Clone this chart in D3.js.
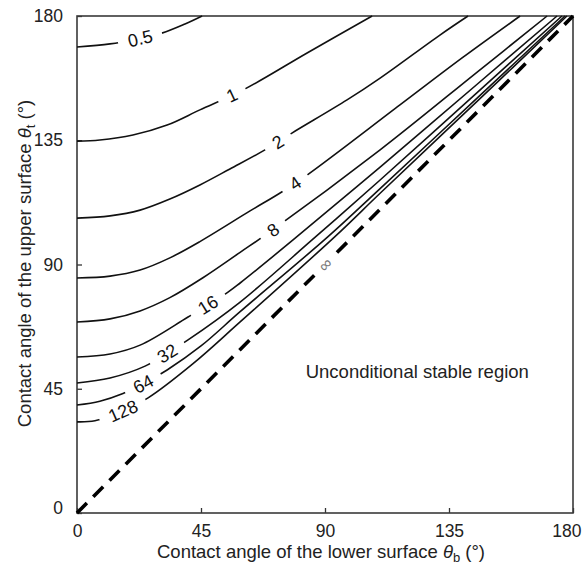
<!DOCTYPE html>
<html>
<head>
<meta charset="utf-8">
<script src="https://cdn.jsdelivr.net/npm/d3@7"></script>
<style>
body { margin: 0; background: #fff; }
text { font-family: "Liberation Sans", Arial, sans-serif; }
</style>
</head>
<body>
<div id="viz"></div>
<script>
// dimensions and margin of the svg
const width = 587
const height = 564
const margin = {left: 77, top: 16, right: 14, bottom: 51}
const g_width = width - margin.left - margin.right;
const g_height = height - margin.top - margin.bottom;

// tick values
const xTicks = [0, 45, 90, 135, 180];
const yTicks = [0, 45, 90, 135, 180];

// contour levels and their lines, [theta_b, theta_t] in degrees
const contourLevels = ["0.5", "1", "2", "4", "8", "16", "32", "64", "128"];
const c0_5 = [[0, 168.8], [12.0, 169.9], [21.0, 171.5], [30.8, 173.8], [39.2, 177.1], [45.4, 180]];
const c1 = [[0, 134.7], [8.3, 135.1], [20.3, 136.9], [32.7, 140.5], [44.6, 146.0], [61.0, 153.6], [83.5, 166.6], [107.1, 180]];
const c2 = [[0, 106.8], [12.0, 107.6], [22.9, 109.7], [33.7, 113.7], [44.6, 118.8], [55.5, 124.6], [68.2, 131.5], [78.0, 137.6], [98.0, 149.6], [110.0, 157.5], [131.7, 173.1], [141.9, 180]];
const c4 = [[0, 85.1], [12.0, 85.8], [22.9, 88.0], [33.7, 92.4], [44.6, 98.3], [62.8, 109.4], [73.7, 115.9], [83.5, 122.4], [117.2, 147.8], [140.0, 165.0], [160.8, 180]];
const c8 = [[0, 69.2], [12.0, 70.3], [22.9, 73.2], [33.7, 78.0], [45.7, 85.2], [59.2, 94.4], [71.1, 102.6], [110.0, 131.5], [145.0, 159.5], [170.6, 180]];
const c16 = [[0, 56.5], [12.0, 57.6], [22.9, 60.8], [40.3, 71.0], [54.8, 80.0], [59.2, 83.3], [78.4, 98.9], [110.0, 125.3], [145.0, 155.1], [174.2, 180]];
const c32 = [[0, 47.1], [12.0, 48.9], [24.7, 53.2], [32.7, 57.9], [40.3, 62.7], [59.2, 76.4], [85.3, 98.9], [110.0, 120.6], [145.0, 152.1], [176.0, 180]];
const c64 = [[0, 39.1], [8.3, 40.5], [16.7, 43.3], [24.0, 46.8], [32.7, 51.8], [45.0, 60.5], [59.2, 72.9], [91.0, 100.0], [110.0, 117.5], [145.0, 150.1], [177.1, 180]];
const c128 = [[0, 33.0], [6.5, 33.4], [16.7, 37.0], [25.8, 41.7], [42.0, 54.0], [59.2, 69.2], [93.6, 100.1], [110.0, 115.8], [145.0, 148.9], [177.8, 180]];
const contourData = [c0_5, c1, c2, c4, c8, c16, c32, c64, c128];

// theta_b where each level label sits on its line
const labelThetaB = [22.9, 56.2, 72.9, 79.1, 71.1, 47.5, 32.7, 24.0, 16.7];

// the infinity (neutral) line
const infinityLine = [[0, 0], [180, 180]];
const infinityLabelAt = 90;

const regionText = "Unconditional stable region";
const regionAt = [123.5, 49];

var svg = d3.select("#viz")
        .append("svg")
        .attr("width", width)
        .attr("height", height)
        .append("g")
        .attr("transform", "translate(" + margin.left + "," + margin.top + ")");

const defs = svg.append("defs");

const x = d3.scaleLinear().domain([0, 180]).range([0, g_width]);
const y = d3.scaleLinear().domain([0, 180]).range([g_height, 0]);

// axes with small inward ticks
const x_axis = d3.axisBottom(x).tickValues(xTicks).tickSizeInner(-5).tickSizeOuter(0).tickPadding(11.5);
const y_axis = d3.axisLeft(y).tickValues(yTicks).tickSizeInner(-5).tickSizeOuter(0).tickPadding(14);

svg.append("g")
    .attr("transform", "translate(0," + g_height + ")")
    .call(x_axis)
    .call(g => g.select(".domain").remove())
    .call(g => g.selectAll("line").attr("stroke", "#333").attr("stroke-width", 1.3))
    .call(g => g.selectAll("text").style("font-size", "17.5px").attr("fill", "#222")
        .style("font-family", "'Liberation Sans', Arial, sans-serif"))
    // last label is pulled inside the page edge
    .call(g => g.selectAll("text").filter(d => d === 180).attr("text-anchor", "end").attr("x", 8));

svg.append("g")
    .call(y_axis)
    .call(g => g.select(".domain").remove())
    .call(g => g.selectAll("line").attr("stroke", "#333").attr("stroke-width", 1.3))
    .call(g => g.selectAll("text").style("font-size", "17.5px").attr("fill", "#222")
        .style("font-family", "'Liberation Sans', Arial, sans-serif"))
    .call(g => g.selectAll("text").filter(d => d === 0).attr("y", -5));

// frame
svg.append("rect")
    .attr("width", g_width)
    .attr("height", g_height)
    .attr("fill", "none")
    .attr("stroke", "#3a3a3a")
    .attr("stroke-width", 1.6);

const line = d3.line()
    .x(d => x(d[0]))
    .y(d => y(d[1]))
    .curve(d3.curveCatmullRom.alpha(0.5));

// draws a label on a line and cuts a gap for it with a mask
function labelGap(id, px, py, ang, txt, size, pad, color) {
    const t = svg.append("text")
        .attr("transform", "translate(" + px + "," + py + ") rotate(" + ang + ")")
        .attr("text-anchor", "middle")
        .attr("dy", "0.36em")
        .style("font-size", size + "px")
        .attr("fill", color)
        .text(txt);
    const w = t.node().getComputedTextLength();
    const m = defs.append("mask")
        .attr("id", id)
        .attr("maskUnits", "userSpaceOnUse")
        .attr("x", -20).attr("y", -20)
        .attr("width", g_width + 40).attr("height", g_height + 40);
    m.append("rect")
        .attr("x", -20).attr("y", -20)
        .attr("width", g_width + 40).attr("height", g_height + 40)
        .attr("fill", "white");
    m.append("rect")
        .attr("transform", "translate(" + px + "," + py + ") rotate(" + ang + ")")
        .attr("x", -w / 2 - pad).attr("y", -10)
        .attr("width", w + 2 * pad).attr("height", 20)
        .attr("fill", "black");
    return "url(#" + id + ")";
}

contourData.forEach(function(pts, i) {
    const interp = d3.scaleLinear().domain(pts.map(d => d[0])).range(pts.map(d => d[1]));
    const lx = labelThetaB[i];
    const px = x(lx), py = y(interp(lx));
    const ang = Math.atan2(y(interp(lx + 2)) - y(interp(lx - 2)), x(lx + 2) - x(lx - 2)) * 180 / Math.PI;
    const mask = labelGap("m" + i, px, py, ang, contourLevels[i], 18, 10, "#111");
    svg.append("path")
        .datum(pts)
        .attr("d", line)
        .attr("fill", "none")
        .attr("stroke", "#111")
        .attr("stroke-width", 1.6)
        .attr("mask", mask);
});

// dashed infinity line
const infMask = labelGap("minf", x(infinityLabelAt), y(infinityLabelAt), -45, "\u221e", 17, 9, "#777");
svg.append("path")
    .datum(infinityLine)
    .attr("d", d3.line().x(d => x(d[0])).y(d => y(d[1])))
    .attr("fill", "none")
    .attr("stroke", "#000")
    .attr("stroke-width", 3.6)
    .style("stroke-dasharray", "14, 9")
    .attr("mask", infMask);

// region label
svg.append("text")
    .attr("x", x(regionAt[0]))
    .attr("y", y(regionAt[1]))
    .attr("text-anchor", "middle")
    .style("font-size", "18.5px")
    .attr("fill", "#222")
    .text(regionText);

// x label
const xl = svg.append("text")
    .attr("x", g_width / 2 - 4)
    .attr("y", g_height + 45)
    .attr("text-anchor", "middle")
    .style("font-size", "18.5px")
    .attr("fill", "#222");
xl.append("tspan").text("Contact angle of the lower surface ");
xl.append("tspan").style("font-style", "italic").text("\u03b8");
xl.append("tspan").attr("dy", 4).style("font-size", "13px").text("b");
xl.append("tspan").attr("dy", -4).text(" (\u00b0)");

// y label
const yl = svg.append("text")
    .attr("transform", "rotate(-90)")
    .attr("x", -g_height / 2 + 1)
    .attr("y", -46)
    .attr("text-anchor", "middle")
    .style("font-size", "18.5px")
    .attr("fill", "#222");
yl.append("tspan").text("Contact angle of the upper surface ");
yl.append("tspan").style("font-style", "italic").text("\u03b8");
yl.append("tspan").attr("dy", 4).style("font-size", "13px").text("t");
yl.append("tspan").attr("dy", -4).text(" (\u00b0)");
</script>
</body>
</html>
